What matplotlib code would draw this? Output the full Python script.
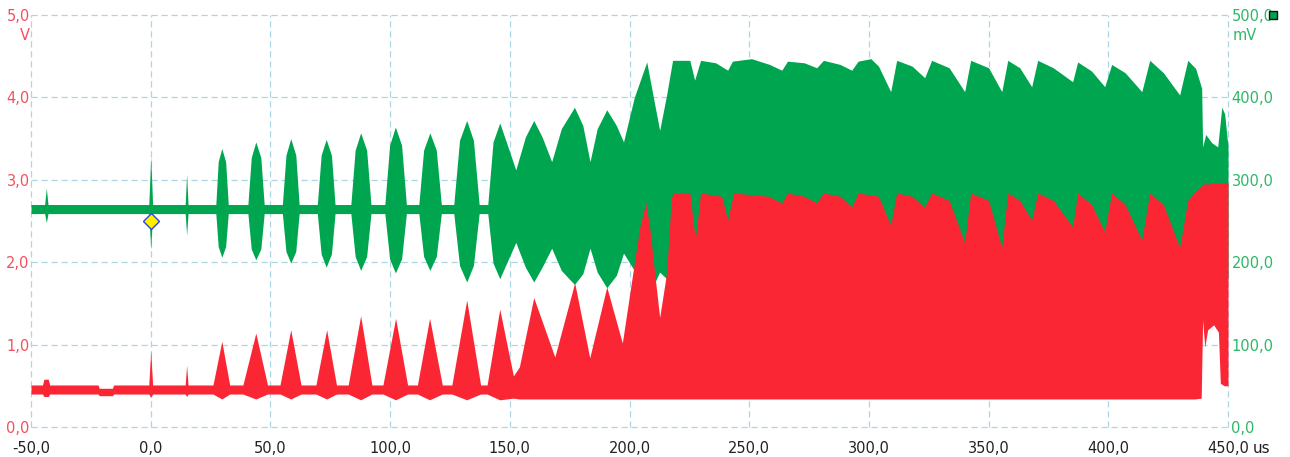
import matplotlib
matplotlib.use("Agg")
import matplotlib.pyplot as plt

RED = "#fb2634"
GREEN = "#00a64f"
GRID = "#acd6e6"

# channel B (green, mV): envelope of the burst signal
green_t = [-50, -44.3, -43.6, -42.9, -0.8, 0.0, 0.8, 14.4, 15.0, 15.6,
           27.2, 28.2, 29.7, 31.3, 32.4,
           40.6, 42.0, 43.9, 46.0, 47.4,
           55.0, 56.5, 58.5, 60.6, 62.0,
           69.6, 71.2, 73.3, 75.5, 77.0,
           83.6, 85.4, 87.7, 90.2, 92.0,
           97.8, 99.8, 102.2, 104.8, 106.8,
           112.0, 114.0, 116.6, 119.3, 121.4,
           126.6, 129.0, 132.0, 134.8, 137.2,
           140.8, 143.0, 145.8, 149.0, 152.5,
           156.5, 160.0, 163.5, 167.5,
           171.5, 177.0, 180.5, 183.5,
           186.5, 190.5, 194.5, 197.5,
           202.0, 207.2, 210.5, 212.6, 215.5, 218.0,
           225.2, 227.2, 229.7, 236.0, 241.0, 243.0, 251.0, 258.5, 263.6, 266.0,
           273.0, 278.2, 281.0, 288.0, 292.8, 295.5, 300.8, 304.0, 309.1, 311.6,
           318.0, 323.3, 326.2, 333.5, 340.0, 342.5, 350.0, 355.5, 358.0, 363.0,
           368.0, 370.5, 377.0, 385.1, 387.2, 393.0, 398.5, 401.4, 407.0, 414.0,
           417.3, 423.0, 429.8, 433.2, 436.5, 439.0, 439.4, 440.7, 443.2, 445.7,
           447.4, 448.6, 450.0]
green_hi = [270, 270, 290, 270, 270, 328, 270, 270, 307, 270,
            270, 322, 338, 322, 270,
            270, 327, 346, 327, 270,
            270, 330, 350, 330, 270,
            270, 330, 349, 330, 270,
            270, 336, 357, 336, 270,
            270, 342, 364, 342, 270,
            270, 336, 357, 336, 270,
            270, 348, 372, 348, 270,
            270, 346, 369, 342, 312,
            352, 372, 352, 322,
            362, 388, 366, 322,
            362, 385, 366, 346,
            400, 443, 392, 360, 403, 445,
            445, 421, 445, 442, 433, 444, 447, 440, 433, 444,
            442, 436, 445, 440, 433, 444, 447, 438, 407, 445,
            438, 424, 445, 436, 407, 445, 436, 407, 445, 436,
            413, 445, 436, 419, 443, 432, 413, 440, 430, 407,
            445, 430, 403, 445, 435, 411, 340, 355, 345, 340,
            388, 380, 340]
green_lo = [259, 259, 248, 259, 259, 216, 259, 259, 233, 259,
            259, 219, 206, 219, 259,
            259, 216, 203, 216, 259,
            259, 213, 199, 213, 259,
            259, 210, 194, 210, 259,
            259, 207, 190, 207, 259,
            259, 204, 187, 204, 259,
            259, 207, 190, 207, 259,
            259, 196, 176, 196, 259,
            259, 199, 180, 201, 224,
            194, 176, 194, 217,
            190, 173, 186, 217,
            188, 169, 184, 211,
            190, 166, 175, 188, 180, 180,
            180, 180, 180, 180, 180, 180, 180, 180, 180, 180,
            180, 180, 180, 180, 180, 180, 180, 180, 180, 180,
            180, 180, 180, 180, 180, 180, 180, 180, 180, 180,
            180, 180, 180, 180, 180, 180, 180, 180, 180, 180,
            180, 180, 180, 180, 180, 180, 180, 180, 180, 180,
            180, 180, 180]

# channel A (red, V)
red_t = [-50.0, -45.2, -44.6, -42.8, -42.2, -22.0, -21.5, -16.0, -15.5, -0.8,
         0.0, 0.8, 14.4, 15.0, 15.6,
         26.0, 29.7, 33.0, 38.5, 43.9, 48.8, 54.0, 58.5, 62.8,
         69.0, 73.5, 77.6, 82.5, 87.7, 92.4, 97.0, 102.3, 107.3,
         111.4, 116.5, 121.8, 125.8, 132.0, 137.8, 140.5, 145.8, 151.5,
         154.0, 160.0, 168.8, 177.1, 183.4, 190.5, 197.0,
         204.3, 206.8, 208.4, 210.5, 212.6, 215.5, 217.5, 218.5,
         225.2, 227.5, 229.7, 238.5, 241.0, 243.5, 258.0, 263.6, 266.0, 273.0,
         278.2, 281.0, 288.0, 292.8, 295.5, 304.0, 309.1, 311.6, 318.0, 323.3,
         326.2, 333.5, 340.0, 342.5, 350.0, 355.5, 358.0, 363.0, 368.0, 370.5,
         377.0, 385.1, 387.2, 393.0, 398.5, 401.4, 407.0, 414.0, 417.3, 423.0,
         429.8, 433.2, 436.0, 438.8, 439.4, 440.3, 441.5, 444.0, 446.0, 446.8,
         448.5, 450.0]
red_hi = [0.51, 0.51, 0.58, 0.58, 0.51, 0.51, 0.47, 0.47, 0.51, 0.51,
          0.93, 0.51, 0.51, 0.75, 0.51,
          0.51, 1.04, 0.51, 0.51, 1.14, 0.51, 0.51, 1.18, 0.51,
          0.51, 1.18, 0.51, 0.51, 1.35, 0.51, 0.51, 1.32, 0.51,
          0.51, 1.32, 0.51, 0.51, 1.54, 0.51, 0.51, 1.43, 0.62,
          0.73, 1.57, 0.85, 1.75, 0.84, 1.70, 1.02,
          2.43, 2.72, 2.43, 1.87, 1.33, 1.87, 2.79, 2.84,
          2.84, 2.28, 2.84, 2.80, 2.51, 2.84, 2.80, 2.72, 2.84, 2.80,
          2.72, 2.84, 2.80, 2.67, 2.84, 2.80, 2.45, 2.84, 2.80, 2.67,
          2.84, 2.75, 2.24, 2.84, 2.75, 2.18, 2.84, 2.75, 2.51, 2.84,
          2.75, 2.43, 2.84, 2.70, 2.37, 2.84, 2.70, 2.27, 2.84, 2.70,
          2.18, 2.75, 2.85, 2.92, 2.95, 2.95, 2.95, 2.96, 2.96, 2.96,
          2.97, 2.96]
red_lo = [0.40, 0.40, 0.37, 0.37, 0.40, 0.40, 0.38, 0.38, 0.40, 0.40,
          0.36, 0.40, 0.40, 0.37, 0.40,
          0.40, 0.34, 0.40, 0.40, 0.34, 0.40, 0.40, 0.34, 0.40,
          0.40, 0.34, 0.40, 0.40, 0.33, 0.40, 0.40, 0.33, 0.40,
          0.40, 0.33, 0.40, 0.40, 0.33, 0.40, 0.40, 0.33, 0.35,
          0.34, 0.34, 0.34, 0.34, 0.34, 0.34, 0.34,
          0.34, 0.34, 0.34, 0.34, 0.34, 0.34, 0.34, 0.34,
          0.34, 0.34, 0.34, 0.34, 0.34, 0.34, 0.34, 0.34, 0.34, 0.34,
          0.34, 0.34, 0.34, 0.34, 0.34, 0.34, 0.34, 0.34, 0.34, 0.34,
          0.34, 0.34, 0.34, 0.34, 0.34, 0.34, 0.34, 0.34, 0.34, 0.34,
          0.34, 0.34, 0.34, 0.34, 0.34, 0.34, 0.34, 0.34, 0.34, 0.34,
          0.34, 0.34, 0.34, 0.35, 1.30, 0.97, 1.18, 1.24, 1.15, 0.53,
          0.50, 0.50]

x_ticks = [-50, 0, 50, 100, 150, 200, 250, 300, 350, 400, 450]
v_ticks = [0, 1, 2, 3, 4, 5]
mv_ticks = [0, 100, 200, 300, 400, 500]

trigger = (0.0, 2.5)


def comma(v):
    return f"{v:.1f}".replace(".", ",")


def draw_grid(axis):
    for x in x_ticks:
        axis.axvline(x, color=GRID, lw=0.9, ls=(0, (5, 3)), zorder=0, clip_on=False)
    for y in mv_ticks:
        axis.axhline(y, color=GRID, lw=0.9, ls=(0, (5, 3)), zorder=0, clip_on=False)


fig = plt.figure(figsize=(12.9, 4.57), dpi=100)
ax = fig.add_axes([31 / 1290, 30 / 457, 1197 / 1290, 412 / 457])
ax2 = ax.twinx()
ax.set_zorder(ax2.get_zorder() + 1)
ax.patch.set_visible(False)

draw_grid(ax2)
ax2.fill_between(green_t, green_lo, green_hi, color=GREEN, lw=0, zorder=2)
ax.fill_between(red_t, red_lo, red_hi, color=RED, lw=0, zorder=2)
ax.plot(*trigger, marker="D", ms=8.5, mfc="#fff000", mec="#3344dd", mew=1.0, zorder=5)
ax2.plot(468.9, 500, marker="s", ms=5.5, mfc="#00a050", mec="#111111", mew=1.0,
         clip_on=False, zorder=5)

ax.set_xlim(-50, 450)
ax.set_ylim(0, 5)
ax2.set_ylim(0, 500)

ax.set_xticks(x_ticks, [comma(x) for x in x_ticks])
ax.set_yticks(v_ticks, [comma(v) for v in v_ticks])
ax2.set_yticks(mv_ticks, [comma(v) for v in mv_ticks])

ax.tick_params(axis="x", length=0, pad=10, labelsize=10.5, labelcolor="#222222")
ax.tick_params(axis="y", length=0, pad=1, labelsize=10.5, labelcolor="#f2505e")
ax2.tick_params(axis="y", length=0, pad=2.5, labelsize=10.5, labelcolor="#2db866")

for a in (ax, ax2):
    for s in a.spines.values():
        s.set_visible(False)

ax.text(-0.001, 0.951, "V", transform=ax.transAxes, ha="right", va="center",
        fontsize=10.5, color="#f2505e")
ax2.text(1.0035, 0.951, "mV", transform=ax2.transAxes, ha="left", va="center",
         fontsize=10.5, color="#2db866")
ax.text(1.0205, -0.051, "us", transform=ax.transAxes, ha="left", va="center",
        fontsize=11, color="#222222")

fig.savefig("out.png", dpi=100)
